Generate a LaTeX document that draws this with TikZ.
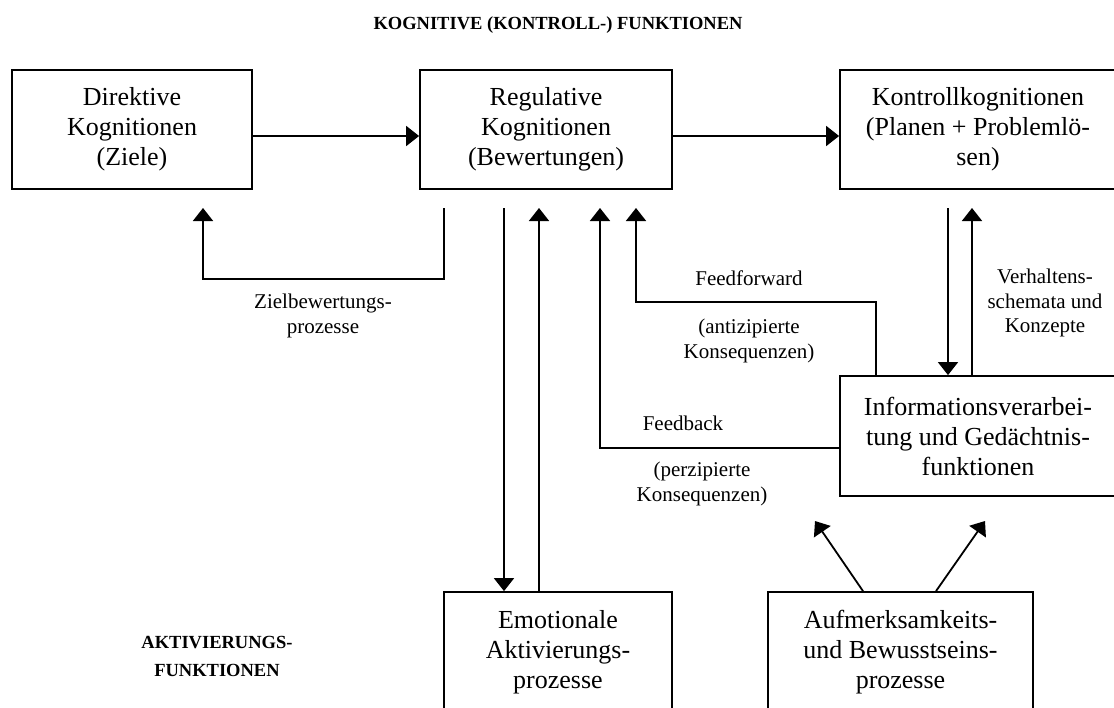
\documentclass[tikz,border=0pt]{standalone}
\usepackage{fontspec}
\setmainfont{Liberation Serif}
\usetikzlibrary{arrows.meta}

\begin{document}
\begin{tikzpicture}[x=1pt,y=-1pt,
  box/.style={draw, line width=1.8pt, inner sep=0pt, align=center,
              font=\fontsize{26}{30}\selectfont},
  lbl/.style={align=center, inner sep=0pt, font=\fontsize{21}{24.5}\selectfont},
  hd/.style={align=center, inner sep=0pt, font=\fontsize{18.5}{28}\selectfont\bfseries},
  link/.style={line width=1.8pt},
  arr/.style={link, -{Triangle[width=20pt,length=13pt]}}]

\useasboundingbox (0,0) rectangle (1114,707);

% headings
\node[hd] (thead) at (558,25) {KOGNITIVE (KONTROLL-) FUNKTIONEN};
\node[hd] (ahead) at (217,656) {AKTIVIERUNGS-\\FUNKTIONEN};

% boxes
\node[box, minimum width=240, minimum height=119] (dir) at (132,129.5)
  {Direktive\\Kognitionen\\(Ziele)};
\node[box, minimum width=252, minimum height=119] (reg) at (546,129.5)
  {Regulative\\Kognitionen\\(Bewertungen)};
\node[box, minimum width=276, minimum height=119] (kon) at (978,129.5)
  {Kontrollkognitionen\\(Planen + Problemlö-\\sen)};
\node[box, minimum width=276, minimum height=120] (info) at (978,436)
  {Informationsverarbei-\\tung und Gedächtnis-\\funktionen};
\node[box, minimum width=228, minimum height=120] (emo) at (558,652)
  {Emotionale\\Aktivierungs-\\prozesse};
\node[box, minimum width=265, minimum height=120] (auf) at (900.5,652)
  {Aufmerksamkeits-\\und Bewusstseins-\\prozesse};

% free ends of the connectors
\coordinate (zs) at (444,208);
\coordinate (zt) at (203,208);
\coordinate (e1) at (504,208);
\coordinate (e2) at (539,208);
\coordinate (fb) at (600,208);
\coordinate (ff) at (636,208);
\coordinate (ffx) at (876,0);
\coordinate (k1) at (948,208);
\coordinate (k2) at (972,208);
\coordinate (a1s) at (863,0);
\coordinate (a1) at (815,521);
\coordinate (a2s) at (936,0);
\coordinate (a2) at (985,521);

% top row
\draw[arr] ([yshift=-6.5pt]dir.east) -- ([yshift=-6.5pt]reg.west);
\draw[arr] ([yshift=-6.5pt]reg.east) -- ([yshift=-6.5pt]kon.west);

% goal evaluation loop
\draw[arr] (zs) -- ++(0,71) -| (zt);

% regulative <-> emotional
\draw[arr] (e1) -- (e1 |- emo.north);
\draw[arr] (e2 |- emo.north) -- (e2);

% feedback and feedforward
\draw[arr] ([yshift=-12pt]info.west) -| (fb);
\draw[arr] (info.north -| ffx) -- ++(0,-73) -| (ff);

% control <-> information processing
\draw[arr] (k1) -- (k1 |- info.north);
\draw[arr] (k2 |- info.north) -- (k2);

% attention towards information processing
\draw[arr] (auf.north -| a1s) -- (a1);
\draw[arr] (auf.north -| a2s) -- (a2);

% labels
\node[lbl] (lz) at (323,316) {Zielbewertungs-\\prozesse};
\node[lbl] (lff) at (749,278) {Feedforward};
\node[lbl] (lant) at (749,341) {(antizipierte\\Konsequenzen)};
\node[lbl] (lfb) at (683,423) {Feedback};
\node[lbl] (lper) at (702,484) {(perzipierte\\Konsequenzen)};
\node[lbl] (lvs) at (1045,303) {Verhaltens-\\schemata und\\Konzepte};
\end{tikzpicture}
\end{document}
